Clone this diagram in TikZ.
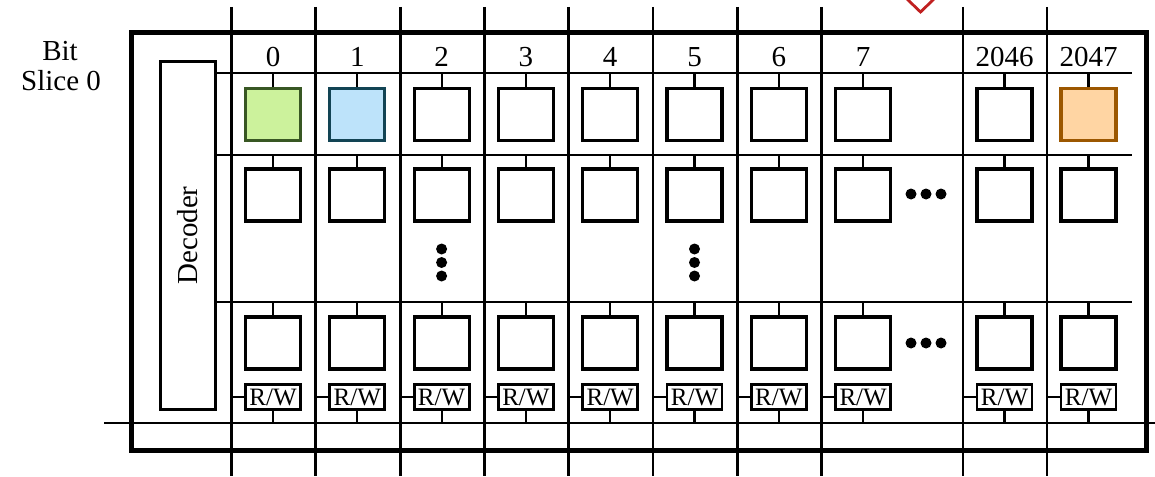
\documentclass[tikz,border=0pt]{standalone}
\usepackage{fontspec}
\setmainfont{Liberation Serif}
\usetikzlibrary{calc}

\definecolor{greenfill}{HTML}{CCF29C}
\definecolor{greenline}{HTML}{385723}
\definecolor{bluefill}{HTML}{BDE3FA}
\definecolor{blueline}{HTML}{124454}
\definecolor{orangefill}{HTML}{FFD5A3}
\definecolor{orangeline}{HTML}{9C5700}
\definecolor{markred}{HTML}{C02020}

\tikzset{
  cell/.style={draw,line width=3.2pt,minimum width=55pt,minimum height=52pt},
  plain/.style={cell,fill=white},
  hotA/.style={cell,draw=greenline,fill=greenfill},
  hotB/.style={cell,draw=blueline,fill=bluefill},
  hotC/.style={cell,draw=orangeline,fill=orangefill},
  rwbox/.style={draw,line width=2.8pt,fill=white,minimum width=55pt,minimum height=25pt,
    font=\fontsize{25}{25}\selectfont},
  lbl/.style={font=\fontsize{29}{31}\selectfont},
  wire/.style={line width=2.2pt},
  bitline/.style={line width=2.8pt}
}

\begin{document}
\begin{tikzpicture}[x=1pt,y=-1pt,inner sep=0pt]
\useasboundingbox (0,0) rectangle (1155,476);
\def\dx{41.5}

% word lines and data line
\coordinate (wl1) at (1132,73);
\coordinate (wl2) at (1132,155);
\coordinate (wl3) at (1132,302);
\coordinate (dlw) at (104,423);
\coordinate (dle) at (1155,423);

\node[draw,line width=3pt,minimum width=55pt,minimum height=348pt] (dec) at (188,235.5) {};
\node[lbl,rotate=90] (declbl) at (dec) {Decoder};

\draw[wire] (dec.east |- wl1) -- (wl1);
\draw[wire] (dec.east |- wl2) -- (wl2);
\draw[wire] (dec.east |- wl3) -- (wl3);
\draw[wire] (dlw) -- (dle);

% bit lines, cells, R/W
\foreach \i/\x/\lab/\sty in {0/231.5/0/hotA, 1/315.8/1/hotB, 2/400.1/2/plain,
    3/484.4/3/plain, 4/568.7/4/plain, 5/653/5/plain, 6/737.3/6/plain,
    7/821.6/7/plain, 8/963/2046/plain, 9/1047/2047/hotC} {
  \coordinate (bt\i) at (\x,7);
  \coordinate (bb\i) at (\x,476);
  \draw[bitline] (bt\i) -- (bb\i);
  \node[lbl] (lab\i) at (\x+\dx,57) {\lab};
  \node[\sty] (c1-\i) at (\x+\dx,114.5) {};
  \node[plain] (c2-\i) at (\x+\dx,195) {};
  \node[plain] (c3-\i) at (\x+\dx,343) {};
  \node[rwbox] (rw\i) at (\x+\dx,397) {R/W};
  \draw[wire] (c1-\i.north) -- (c1-\i.north |- wl1);
  \draw[wire] (c2-\i.north) -- (c2-\i.north |- wl2);
  \draw[wire] (c3-\i.north) -- (c3-\i.north |- wl3);
  \draw[wire] (rw\i.west) -- (rw\i.west -| bt\i);
  \draw[wire] (rw\i.south) -- (rw\i.south |- dlw);
}

% outer frame
\draw[line width=5pt] (131.5,33) rectangle (1146.5,450);

% dots
\foreach \x in {441.6,694.5}
  \foreach \y in {249,262.5,276}
    \fill (\x,\y) circle (5.5);
\foreach \y in {194,343}
  \foreach \x in {911,926,941}
    \fill (\x,\y) circle (5.5);

\node[lbl] (bit) at (60,51) {Bit};
\node[lbl] (slice) at (61,81) {Slice 0};

\draw[markred,line width=2.8pt] (907,-1) -- (920.5,12) -- (934,-1);
\end{tikzpicture}
\end{document}
